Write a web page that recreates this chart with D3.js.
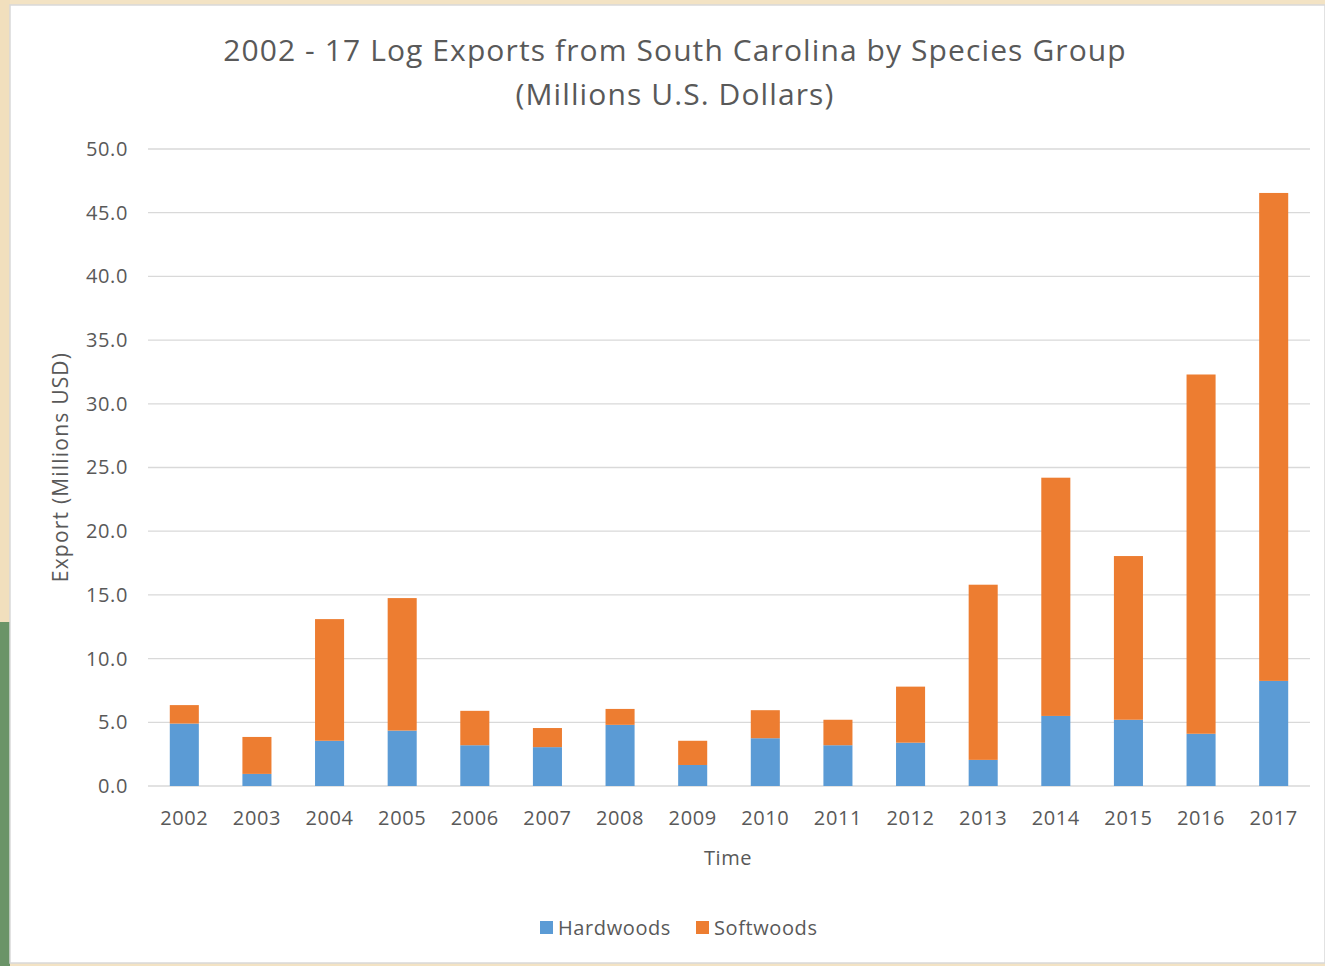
<!DOCTYPE html>
<html>
<head>
<meta charset="utf-8">
<script src="https://cdn.jsdelivr.net/npm/d3@7"></script>
<style>
  body { margin: 0; background: #f3e3c4; }
  svg { display: block; }
</style>
</head>
<body>
<div id="chart"></div>
<script>
// chart data
var years = ["2002", "2003", "2004", "2005", "2006", "2007", "2008", "2009",
  "2010", "2011", "2012", "2013", "2014", "2015", "2016", "2017"];
var hardwoods = [4.9, 0.95, 3.55, 4.35, 3.2, 3.05, 4.8, 1.65, 3.75, 3.2, 3.4, 2.05, 5.5, 5.2, 4.1, 8.25];
var softwoods = [1.45, 2.9, 9.55, 10.4, 2.7, 1.5, 1.25, 1.9, 2.2, 2.0, 4.4, 13.75, 18.7, 12.85, 28.2, 38.3];
var yTicks = [0, 5, 10, 15, 20, 25, 30, 35, 40, 45, 50];
var seriesNames = ["Hardwoods", "Softwoods"];
var colors = ["#5b9bd5", "#ed7d31"];

var svgWidth = 1325, svgHeight = 966;
var margin = { top: 149, left: 148, right: 15, bottom: 180 };
var width = svgWidth - margin.left - margin.right;
var height = 786 - margin.top;

var svg = d3.select("#chart").append("svg")
  .attr("width", svgWidth)
  .attr("height", svgHeight);

// background frame
svg.append("rect").attr("x", 0).attr("y", 0).attr("width", 10).attr("height", svgHeight).attr("fill", "#f1dfbd");
svg.append("rect").attr("x", 0).attr("y", 622).attr("width", 10).attr("height", svgHeight - 622).attr("fill", "#6b9468");
svg.append("rect")
  .attr("x", 10).attr("y", 5).attr("width", svgWidth - 10).attr("height", 958)
  .attr("fill", "#ffffff").attr("stroke", "#d9d9d9").attr("stroke-width", 1.5);

var font = "'Open Sans', 'Liberation Sans', sans-serif";

// title
svg.append("text")
  .attr("x", 675).attr("y", 61)
  .attr("text-anchor", "middle")
  .style("font-family", font).style("font-size", "30px").style("letter-spacing", "1.1px")
  .attr("fill", "#595959")
  .text("2002 - 17 Log Exports from South Carolina by Species Group");
svg.append("text")
  .attr("x", 675).attr("y", 105)
  .attr("text-anchor", "middle")
  .style("font-family", font).style("font-size", "30px").style("letter-spacing", "1.1px")
  .attr("fill", "#595959")
  .text("(Millions U.S. Dollars)");

var chartGroup = svg.append("g")
  .attr("transform", `translate(${margin.left}, ${margin.top})`);

var xScale = d3.scaleBand().domain(years).range([0, width]).paddingInner(0.6).paddingOuter(0.3);
var yScale = d3.scaleLinear().domain([0, 50]).range([height, 0]);

// gridlines
chartGroup.append("g")
  .selectAll("line")
  .data(yTicks)
  .enter()
  .append("line")
  .attr("x1", 0).attr("x2", width)
  .attr("y1", d => yScale(d)).attr("y2", d => yScale(d))
  .attr("stroke", "#d9d9d9").attr("stroke-width", 1.3);

// y axis labels
var yAxis = d3.axisLeft(yScale).tickValues(yTicks).tickFormat(d3.format(".1f")).tickSize(0).tickPadding(20);
var yAxisG = chartGroup.append("g").call(yAxis);
yAxisG.select(".domain").remove();
yAxisG.selectAll("text")
  .style("font-family", font).style("font-size", "20px").style("letter-spacing", "0.6px")
  .attr("fill", "#595959");

// x axis labels
var xAxis = d3.axisBottom(xScale).tickSize(0).tickPadding(25);
var xAxisG = chartGroup.append("g").attr("transform", `translate(0, ${height})`).call(xAxis);
xAxisG.select(".domain").remove();
xAxisG.selectAll("text")
  .style("font-family", font).style("font-size", "20px").style("letter-spacing", "0.6px")
  .attr("fill", "#595959");

// stacked bars
var rows = years.map((y, i) => ({ year: y, Hardwoods: hardwoods[i], Softwoods: softwoods[i] }));
var stacked = d3.stack().keys(seriesNames)(rows);

chartGroup.selectAll(".series")
  .data(stacked)
  .enter()
  .append("g")
  .attr("fill", (d, i) => colors[i])
  .selectAll("rect")
  .data(d => d)
  .enter()
  .append("rect")
  .attr("x", d => xScale(d.data.year))
  .attr("width", xScale.bandwidth())
  .attr("y", d => yScale(d[1]))
  .attr("height", d => yScale(d[0]) - yScale(d[1]));

// axis titles
chartGroup.append("text")
  .attr("transform", "rotate(-90)")
  .attr("x", -(467 - margin.top)).attr("y", -80)
  .attr("text-anchor", "middle")
  .style("font-family", font).style("font-size", "21px").style("letter-spacing", "1.2px")
  .attr("fill", "#595959")
  .text("Export (Millions USD)");

chartGroup.append("text")
  .attr("x", 728 - margin.left).attr("y", 865 - margin.top)
  .attr("text-anchor", "middle")
  .style("font-family", font).style("font-size", "20px").style("letter-spacing", "0.6px")
  .attr("fill", "#595959")
  .text("Time");

// legend
var legend = svg.append("g").attr("transform", "translate(540, 928)");
var legendX = [0, 156];
seriesNames.forEach(function(name, i) {
  legend.append("rect")
    .attr("x", legendX[i]).attr("y", -7).attr("width", 13).attr("height", 13)
    .attr("fill", colors[i]);
  legend.append("text")
    .attr("x", legendX[i] + 18).attr("y", 7)
    .style("font-family", font).style("font-size", "20px").style("letter-spacing", "0.6px")
    .attr("fill", "#595959")
    .text(name);
});
</script>
</body>
</html>
